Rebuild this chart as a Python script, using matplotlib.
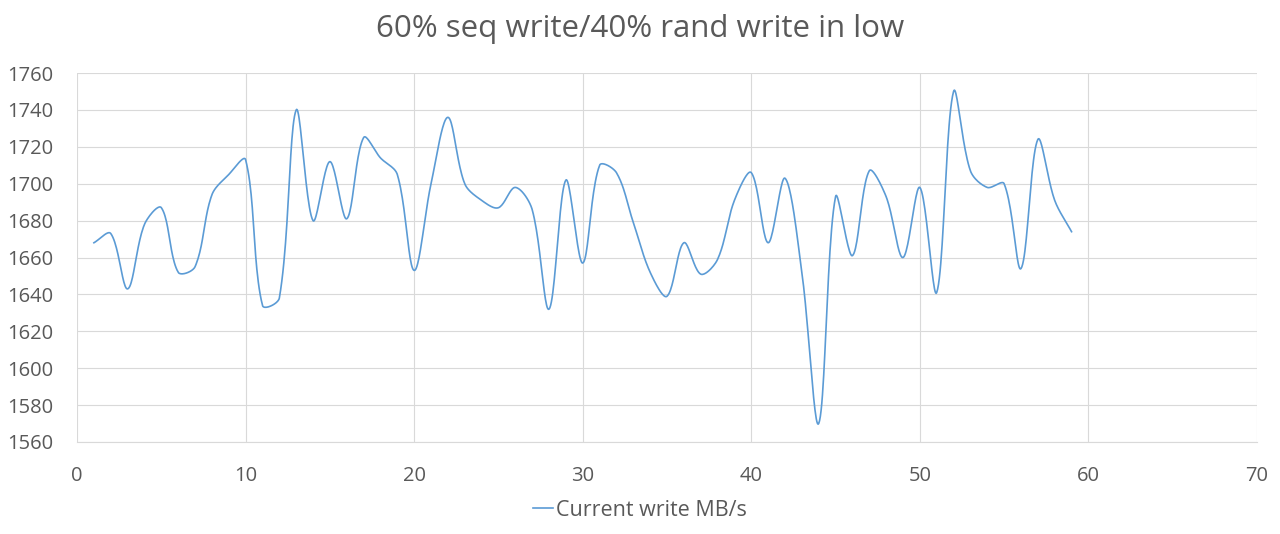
import numpy as np
import matplotlib.pyplot as plt
from matplotlib.lines import Line2D

plt.rcParams['font.family'] = ['Open Sans', 'DejaVu Sans']

# data
seconds = list(range(1, 60))
write_mbs = [1668, 1673, 1643, 1678, 1687, 1652, 1655, 1694, 1705, 1713,
             1634, 1638, 1740, 1680, 1712, 1681, 1725, 1714, 1705, 1653,
             1700, 1736, 1700, 1691, 1687, 1698, 1686, 1632, 1702, 1657,
             1710, 1706, 1679, 1652, 1639, 1668, 1651, 1659, 1691, 1706,
             1668, 1703, 1652, 1570, 1693, 1661, 1707, 1693, 1660, 1698,
             1641, 1750, 1707, 1698, 1700, 1654, 1724, 1691, 1674]
x_ticks = [0, 10, 20, 30, 40, 50, 60, 70]
y_ticks = [1560, 1580, 1600, 1620, 1640, 1660, 1680, 1700, 1720, 1740, 1760]


def smooth(xs, ys, sx=16.86, sy=1.845, n=24):
    # excel-like smoothing: bezier segments, tangents weighted by segment length on screen
    x = np.asarray(xs, float) * sx
    y = np.asarray(ys, float) * sy
    pts = np.column_stack([x, y])
    pts = np.vstack([pts[0], pts, pts[-1]])
    t = np.linspace(0, 1, n)[:, None]
    out = []
    for i in range(1, len(pts) - 2):
        p0, p1, p2, p3 = pts[i - 1], pts[i], pts[i + 1], pts[i + 2]
        d01 = np.hypot(*(p1 - p0))
        d12 = np.hypot(*(p2 - p1))
        d23 = np.hypot(*(p3 - p2))
        k1 = d12 / (d01 + d12) if d01 + d12 > 0 else 0
        k2 = d12 / (d12 + d23) if d12 + d23 > 0 else 0
        c1 = p1 + (p2 - p0) * k1 / 3
        c2 = p2 - (p3 - p1) * k2 / 3
        seg = ((1 - t) ** 3) * p1 + 3 * ((1 - t) ** 2) * t * c1 + 3 * (1 - t) * t ** 2 * c2 + t ** 3 * p2
        out.append(seg)
    out = np.vstack(out)
    return out[:, 0] / sx, out[:, 1] / sy


fig = plt.figure(figsize=(12.8, 5.34), dpi=100)
ax = fig.add_axes([0.0602, 0.1723, 0.9218, 0.6909])

lx, ly = smooth(seconds, write_mbs)
ax.plot(lx, ly, color='#5b9bd5', linewidth=1.2, label='Current write MB/s')

ax.set_xlim(0, 70)
ax.set_ylim(1560, 1760)
ax.set_xticks(x_ticks)
ax.set_yticks(y_ticks)
ax.grid(True, color='#d9d9d9', linewidth=0.8)
ax.set_axisbelow(True)
for s in ['top', 'right', 'left']:
    ax.spines[s].set_visible(False)
ax.spines['bottom'].set_color('#d9d9d9')
ax.tick_params(length=0, labelsize=14.5, labelcolor='#595959')
ax.tick_params(axis='y', pad=17)
ax.tick_params(axis='x', pad=17)

# title centred on the figure, not the plot area
fig.text(0.5, 0.945, '60% seq write/40% rand write in low', fontsize=22.5, color='#595959',
         ha='center', va='center')

handle = Line2D([0], [0], color='#5b9bd5', linewidth=1.2)
fig.legend([handle], ['Current write MB/s'], loc='lower center', bbox_to_anchor=(0.5, -0.012),
           frameon=False, fontsize=15.5, labelcolor='#595959', handlelength=0.9, handletextpad=0.15)

fig.savefig('out.png', dpi=100, facecolor='white')
